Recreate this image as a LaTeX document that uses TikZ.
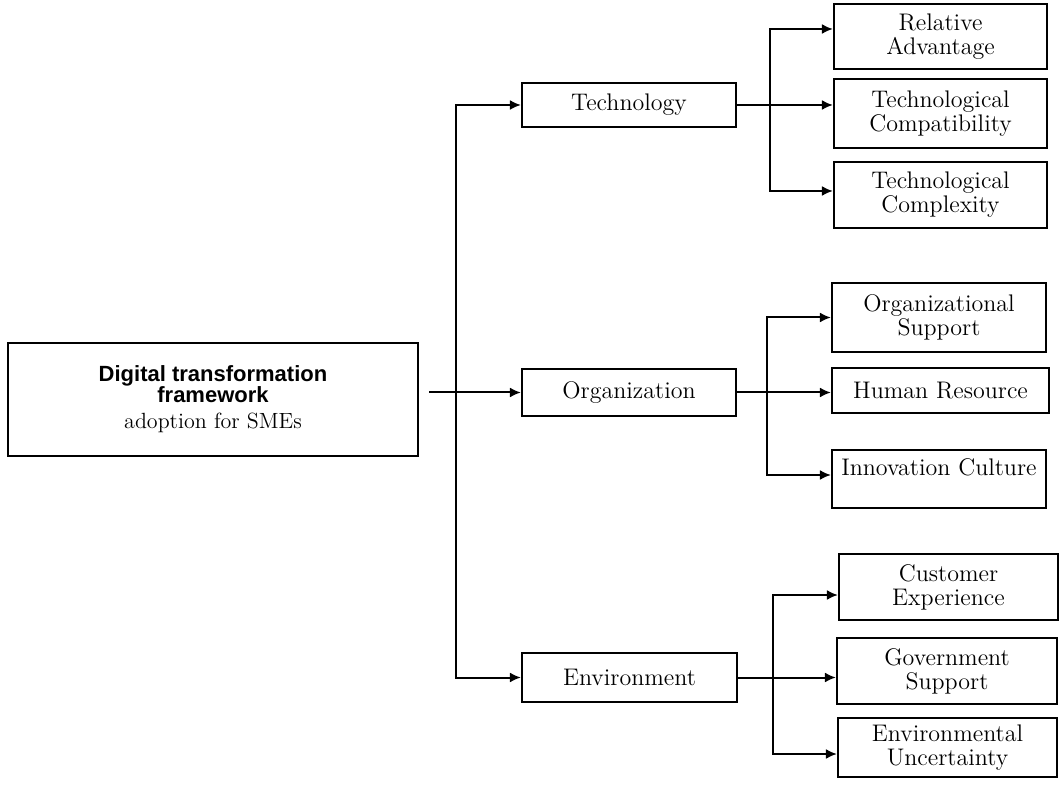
\documentclass[tikz,border=0pt]{standalone}
\usepackage{fontspec}
\newfontfamily\headfont{Liberation Sans}
\usetikzlibrary{arrows.meta}
\usetikzlibrary{positioning}

\begin{document}
\begin{tikzpicture}[x=0.5pt,y=-0.5pt,
  box/.style={draw=black,line width=1.1pt,inner sep=0pt,align=center,font=\fontsize{12}{12}\selectfont},
  link/.style={draw=black,line width=1pt},
  arr/.style={link,-{Latex[length=5.5pt,width=5pt]}}]
\useasboundingbox (0,0) rectangle (1059,790);

\node[box,font=\fontsize{11}{11.5}\selectfont,minimum width=205pt,minimum height=56.5pt] (dtf) at (213,399.5) {{\headfont\bfseries Digital transformation}\\[-1pt]{\headfont\bfseries framework}\\[1.5pt]adoption for SMEs};

\node[box,minimum width=107pt,minimum height=22pt] (tech) at (629,105) {Technology};
\node[box,minimum width=107pt,minimum height=23.5pt] (org) at (629,392.5) {Organization};
\node[box,minimum width=107.5pt,minimum height=24.5pt] (env) at (629.5,677.5) {Environment};

\node[box,minimum width=106.5pt,minimum height=32.5pt] (reladv) at (940.5,36.5) {Relative\\Advantage};
\node[box,minimum width=106.5pt,minimum height=34.5pt] (tcompat) at (940.5,113.5) {Technological\\Compatibility};
\node[box,minimum width=106.5pt,minimum height=33pt] (tcomplex) at (940.5,195) {Technological\\Complexity};

\node[box,minimum width=107pt,minimum height=34.5pt] (orgsup) at (939,317.5) {Organizational\\Support};
\node[box,minimum width=108.5pt,minimum height=22.5pt] (human) at (940.5,390.5) {Human Resource};
\node[box,minimum width=107pt,minimum height=29pt] (innov) at (939,479) {Innovation Culture\\\mbox{}};

\node[box,minimum width=109.5pt,minimum height=33pt] (custexp) at (948.5,587) {Customer\\Experience};
\node[box,minimum width=110pt,minimum height=33pt] (govsup) at (947,671) {Government\\Support};
\node[box,minimum width=109.5pt,minimum height=29.5pt] (envunc) at (947.5,747.5) {Environmental\\Uncertainty};

\coordinate (stub) at (429,392.5);
\coordinate (trunk) at (456,392.5);
\coordinate (tjoin) at (770,105);
\coordinate (ojoin) at (767,392.5);
\coordinate (ejoin) at (773,677.5);

\draw[link] (stub) -- (trunk);
\draw[arr] (trunk) -- (org.west);
\draw[arr] (trunk) |- (tech.west);
\draw[arr] (trunk) |- (env.west);

\draw[link] (tech.east) -- (tjoin);
\draw[arr] (tjoin) |- ([yshift=3.75pt]reladv.west);
\draw[arr] (tjoin) -- (tjoin -| tcompat.west);
\draw[arr] (tjoin) |- ([yshift=2pt]tcomplex.west);

\draw[link] (org.east) -- (ojoin);
\draw[arr] (ojoin) |- (orgsup.west);
\draw[arr] (ojoin) -- (ojoin -| human.west);
\draw[arr] (ojoin) |- ([yshift=2pt]innov.west);

\draw[link] (env.east) -- (ejoin);
\draw[arr] (ejoin) |- ([yshift=-4pt]custexp.west);
\draw[arr] (ejoin) -- (ejoin -| govsup.west);
\draw[arr] (ejoin) |- ([yshift=-3.25pt]envunc.west);

\end{tikzpicture}
\end{document}
